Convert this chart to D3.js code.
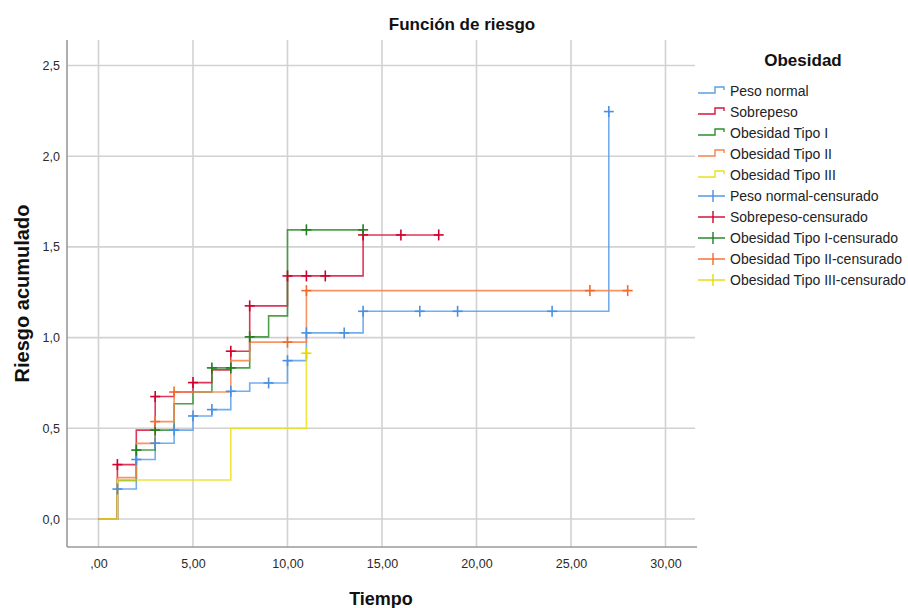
<!DOCTYPE html>
<html><head><meta charset="utf-8">
<script src="https://cdn.jsdelivr.net/npm/d3@7"></script>
<style>body{margin:0;background:#fff}svg{display:block}text{font-family:"Liberation Sans",Arial,sans-serif}</style>
</head><body>
<svg id="c" width="908" height="608"></svg>
<script>
// ---- data ----
const groups = ["Peso normal","Sobrepeso","Obesidad Tipo I","Obesidad Tipo II","Obesidad Tipo III"];
const pesoNormalT = [0,1,2,3,4,5,6,7,8,10,11,14,27];
const pesoNormalH = [0,0.165,0.328,0.418,0.49,0.568,0.603,0.704,0.75,0.873,1.026,1.145,2.246];
const pesoNormalEnd = 27;
const pesoNormalCens = [1,2,3,4,5,6,7,9,10,11,13,14,17,19,24,27];

const sobrepesoT = [0,1,2,3,4,5,6,7,8,10,14];
const sobrepesoH = [0,0.30,0.49,0.675,0.70,0.752,0.822,0.925,1.175,1.34,1.566];
const sobrepesoEnd = 18;
const sobrepesoCens = [1,3,5,7,8,10,11,12,14,16,18];

const tipoIT = [0,1,2,3,4,5,6,8,9,10];
const tipoIH = [0,0.213,0.38,0.49,0.635,0.70,0.833,1.004,1.12,1.594];
const tipoIEnd = 14;
const tipoICens = [2,3,6,7,8,11,14];

const tipoIIT = [0,1,2,3,4,7,8,11];
const tipoIIH = [0,0.228,0.417,0.537,0.70,0.873,0.975,1.259];
const tipoIIEnd = 28;
const tipoIICens = [3,4,10,11,26,28];

const tipoIIIT = [0,1,7,11];
const tipoIIIH = [0,0.215,0.50,0.914];
const tipoIIIEnd = 11;
const tipoIIICens = [11];

const xTicks = [0,5,10,15,20,25,30];
const xTickLabels = [",00","5,00","10,00","15,00","20,00","25,00","30,00"];
const yTicks = [0,0.5,1,1.5,2,2.5];
const yTickLabels = ["0,0","0,5","1,0","1,5","2,0","2,5"];
const colors = ["#5a9fe8","#d8143f","#2e8f2e","#f7824a","#ebe01c"];
const crossColors = ["#4a90e2","#d1002e","#1f7d1f","#f26a2c","#e6da00"];

const series = [
  {T:pesoNormalT,H:pesoNormalH,end:pesoNormalEnd,cens:pesoNormalCens},
  {T:sobrepesoT,H:sobrepesoH,end:sobrepesoEnd,cens:sobrepesoCens},
  {T:tipoIT,H:tipoIH,end:tipoIEnd,cens:tipoICens},
  {T:tipoIIT,H:tipoIIH,end:tipoIIEnd,cens:tipoIICens},
  {T:tipoIIIT,H:tipoIIIH,end:tipoIIIEnd,cens:tipoIIICens}
];

// ---- layout ----
const L = 67, R = 695, T = 40, B = 547;
const x = d3.scaleLinear().domain([0,30]).range([98.5,665.5]);
const y = d3.scaleLinear().domain([0,2.5]).range([519,65.5]);
const svg = d3.select("#c");

// grid
const g = svg.append("g");
g.selectAll("line.vx").data(xTicks).join("line")
  .attr("x1",d=>x(d)).attr("x2",d=>x(d)).attr("y1",T).attr("y2",B)
  .attr("stroke","#d2d2d2").attr("stroke-width",1.6);
g.selectAll("line.hy").data(yTicks).join("line")
  .attr("y1",d=>y(d)).attr("y2",d=>y(d)).attr("x1",L).attr("x2",R)
  .attr("stroke","#d2d2d2").attr("stroke-width",1.6);

// axes
const xAxis = d3.axisBottom(x).tickValues(xTicks).tickFormat((d,i)=>xTickLabels[i]).tickSize(0).tickPadding(12);
const yAxis = d3.axisLeft(y).tickValues(yTicks).tickFormat((d,i)=>yTickLabels[i]).tickSize(0).tickPadding(7);
const xa = svg.append("g").attr("transform",`translate(0,${B})`).call(xAxis);
const ya = svg.append("g").attr("transform",`translate(${L},0)`).call(yAxis);
[xa,ya].forEach(a=>{a.select(".domain").remove();a.selectAll("text").attr("font-size",12.5).attr("fill","#2a2a2a").style("font-family","'Liberation Sans',Arial,sans-serif");});
svg.append("line").attr("x1",L).attr("x2",L).attr("y1",T).attr("y2",B).attr("stroke","#9a9a9a").attr("stroke-width",1.6);
svg.append("line").attr("x1",L).attr("x2",R+2).attr("y1",B).attr("y2",B).attr("stroke","#9a9a9a").attr("stroke-width",1.6);

// step lines
const line = d3.line().x(d=>x(d[0])).y(d=>y(d[1])).curve(d3.curveStepAfter);
series.forEach((s,i)=>{
  const pts = s.T.map((t,k)=>[t,s.H[k]]);
  pts.push([s.end,s.H[s.H.length-1]]);
  svg.append("path").attr("d",line(pts)).attr("fill","none")
    .attr("stroke",colors[i]).attr("stroke-width",1.6).attr("stroke-opacity",0.85);
});
// censor crosses
function valAt(s,t){let v=0;s.T.forEach((tt,k)=>{if(tt<=t)v=s.H[k];});return v;}
series.forEach((s,i)=>{
  const cg = svg.append("g").attr("stroke",crossColors[i]).attr("stroke-width",1.6);
  s.cens.forEach(t=>{
    const cx=x(t), cy=y(valAt(s,t));
    cg.append("line").attr("x1",cx-5).attr("x2",cx+5).attr("y1",cy).attr("y2",cy);
    cg.append("line").attr("x1",cx).attr("x2",cx).attr("y1",cy-5.5).attr("y2",cy+5.5);
  });
});

// titles
svg.append("text").attr("x",462).attr("y",30).attr("text-anchor","middle")
  .attr("font-size",17).attr("font-weight","bold").attr("fill","#111").text("Función de riesgo");
svg.append("text").attr("x",(L+R)/2).attr("y",605).attr("text-anchor","middle")
  .attr("font-size",18).attr("font-weight","bold").attr("fill","#111").text("Tiempo");
svg.append("text").attr("transform",`translate(29,${(T+B)/2}) rotate(-90)`).attr("text-anchor","middle")
  .attr("font-size",20).attr("font-weight","bold").attr("fill","#111").text("Riesgo acumulado");

// legend
svg.append("text").attr("x",803).attr("y",66).attr("text-anchor","middle")
  .attr("font-size",17).attr("font-weight","bold").attr("fill","#111").text("Obesidad");
const legItems = groups.map((gname,i)=>({label:gname,type:"step",i}))
  .concat(groups.map((gname,i)=>({label:gname+"-censurado",type:"cens",i})));
legItems.forEach((d,k)=>{
  const cy = 91 + 21*k;
  if(d.type==="step"){
    svg.append("path").attr("d",`M698,${cy+2}H715V${cy-4}H724V${cy-1}`).attr("fill","none")
      .attr("stroke",colors[d.i]).attr("stroke-width",1.4);
  } else {
    const lg = svg.append("g").attr("stroke",crossColors[d.i]).attr("stroke-width",1.4);
    lg.append("line").attr("x1",698).attr("x2",725).attr("y1",cy).attr("y2",cy);
    lg.append("line").attr("x1",713).attr("x2",713).attr("y1",cy-6).attr("y2",cy+6);
  }
  svg.append("text").attr("x",730).attr("y",cy+5).attr("font-size",14).attr("fill","#222").text(d.label);
});
</script>
</body></html>
